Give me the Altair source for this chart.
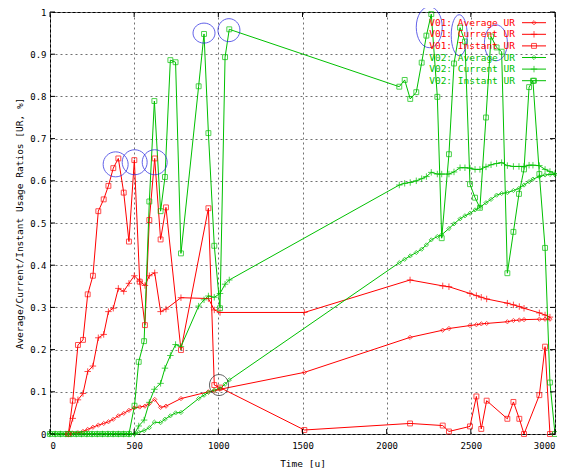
import altair as alt
import pandas as pd

# ---------------- data ----------------
v01_t = [109, 135, 166, 196, 224, 255, 287, 319, 347, 376,
         406, 438, 469, 501, 533, 564, 590, 622, 657, 689,
         778, 941, 976, 1010, 1511, 2139, 2333, 2370, 2495, 2533,
         2562, 2594, 2717, 2753, 2788, 2816, 2907, 2941, 2970]
v01_avg = [0, 0.002, 0.003, 0.006, 0.011, 0.016, 0.021, 0.025, 0.029, 0.035,
           0.043, 0.049, 0.056, 0.062, 0.064, 0.066, 0.072, 0.082, 0.063, 0.066,
           0.084, 0.1, 0.102, 0.106, 0.146, 0.229, 0.246, 0.25, 0.257, 0.259,
           0.261, 0.262, 0.266, 0.269, 0.27, 0.271, 0.272, 0.272, 0.272]
v01_cur = [0, 0.037, 0.081, 0.096, 0.148, 0.161, 0.228, 0.236, 0.29, 0.298,
           0.345, 0.338, 0.357, 0.375, 0.362, 0.352, 0.375, 0.382, 0.29, 0.296,
           0.323, 0.321, 0.294, 0.288, 0.288, 0.365, 0.351, 0.349, 0.333, 0.328,
           0.324, 0.32, 0.31, 0.306, 0.302, 0.298, 0.287, 0.282, 0.277]
v01_inst = [0, 0.079, 0.211, 0.223, 0.331, 0.375, 0.528, 0.556, 0.588, 0.630,
            0.653, 0.572, 0.456, 0.649, 0.361, 0.258, 0.507, 0.653, 0.461, 0.537,
            0.199, 0.535, 0.116, 0.11, 0.0095, 0.025, 0.02, 0.006, 0.018, 0.089,
            0.012, 0.079, 0.036, 0.076, 0.036, 0.0, 0.092, 0.207, 0.0]

v02_t = [0, 31, 62, 94, 125, 156, 187, 219, 250, 281, 312, 344, 375, 406, 437, 469,
         502, 527, 559, 590, 620, 657, 683, 715, 746, 778,
         883, 915, 941, 976, 1010, 1040, 1065,
         2075, 2107, 2140, 2176, 2208, 2236, 2265, 2301, 2327, 2370,
         2400, 2436, 2465, 2495, 2525, 2554, 2590, 2620, 2653, 2683,
         2717, 2753, 2786, 2816, 2846, 2869, 2907, 2941, 2970, 3000]
v02_avg = [0] * 16 + [
    0, 0.004, 0.008, 0.015, 0.028, 0.027, 0.035, 0.043, 0.05, 0.051,
    0.084, 0.092, 0.099, 0.104, 0.108, 0.118, 0.128,
    0.406, 0.414, 0.422, 0.43, 0.438, 0.448, 0.46, 0.468, 0.472, 0.487,
    0.498, 0.51, 0.517, 0.523, 0.531, 0.537, 0.548, 0.556, 0.566, 0.57,
    0.572, 0.577, 0.582, 0.59, 0.598, 0.604, 0.61, 0.614, 0.615, 0.615]
v02_cur = [0] * 16 + [
    0, 0.019, 0.033, 0.075, 0.106, 0.12, 0.156, 0.186, 0.212, 0.207,
    0.303, 0.318, 0.327, 0.324, 0.333, 0.355, 0.365,
    0.59, 0.594, 0.596, 0.6, 0.605, 0.61, 0.62, 0.616, 0.616, 0.616,
    0.621, 0.631, 0.631, 0.63, 0.627, 0.627, 0.633, 0.638, 0.641, 0.643,
    0.636, 0.634, 0.634, 0.634, 0.637, 0.637, 0.636, 0.627, 0.622, 0.617]
v02_inst = [0] * 16 + [
    0.067, 0.171, 0.22, 0.551, 0.789, 0.528, 0.609, 0.886, 0.881, 0.428,
    0.824, 0.948, 0.713, 0.446, 0.298, 0.893, 0.959,
    0.823, 0.839, 0.794, 0.81, 0.88, 0.944, 0.995, 0.799, 0.464, 0.663,
    0.878, 0.963, 0.93, 0.592, 0.56, 0.536, 0.75, 0.942, 0.916, 0.906,
    0.381, 0.479, 0.569, 0.627, 0.822, 0.837, 0.616, 0.441, 0.122, 0.0]

series_names = ["V01: Average UR", "V01: Current UR", "V01: Instant UR",
                "V02: Average UR", "V02: Current UR", "V02: Instant UR"]
series_kinds = ["avg", "cur", "inst", "avg", "cur", "inst"]
RED = "#ff0000"
GREEN = "#00c000"
series_colors = [RED, RED, RED, GREEN, GREEN, GREEN]

# annotation ellipses: centre (t, v) and pixel width/height
ann_t = [390, 503, 622, 915, 1063, 2253, 2431, 2649, 1004]
ann_v = [0.639, 0.644, 0.644, 0.950, 0.957, 0.964, 0.945, 0.927, 0.116]
ann_w = [25, 25, 25, 22, 22, 26, 16, 23, 19]
ann_h = [25, 25, 25, 20, 23, 41, 41, 36, 21]
ann_c = ["#2020e0"] * 8 + ["#202020"]

x_ticks = [0, 500, 1000, 1500, 2000, 2500, 3000]
y_ticks = [0, 0.1, 0.2, 0.3, 0.4, 0.5, 0.6, 0.7, 0.8, 0.9, 1]

W, H = 505, 422
FONT = "DejaVu Sans Mono"

# ---------------- build tables ----------------
rows = []
for name, kind, ts, vs in [
    (series_names[0], "avg", v01_t, v01_avg),
    (series_names[1], "cur", v01_t, v01_cur),
    (series_names[2], "inst", v01_t, v01_inst),
    (series_names[3], "avg", v02_t, v02_avg),
    (series_names[4], "cur", v02_t, v02_cur),
    (series_names[5], "inst", v02_t, v02_inst),
]:
    for t, v in zip(ts, vs):
        rows.append({"t": t, "v": v, "series": name, "kind": kind})
df = pd.DataFrame(rows)

SHAPES = {
    "avg": ("M0,-1L1,0L0,1L-1,0Z", 18),
    "cur": ("M-1,0L1,0M0,-1L0,1", 42),
    "inst": ("M-1,-1L1,-1L1,1L-1,1Z", 24),
}

color_scale = alt.Scale(domain=series_names, range=series_colors)
xs = alt.Scale(domain=[0, 3000], nice=False, zero=False)
ys = alt.Scale(domain=[0, 1], nice=False)

x_enc = alt.X("t:Q", scale=xs,
              axis=alt.Axis(values=x_ticks, format="d", title="Time [u]",
                            grid=True, gridDash=[2, 3], gridColor="#707070",
                            tickSize=0, domain=False, labelPadding=7,
                            labelFlush=2,
                            titleY=29, titleBaseline="middle"))
y_enc = alt.Y("v:Q", scale=ys,
              axis=alt.Axis(values=y_ticks, labelExpr="format(datum.value, '~g')",
                            title="Average/Current/Instant Usage Ratios [UR, %]",
                            grid=True, gridDash=[2, 3], gridColor="#707070",
                            tickSize=0, domain=False, labelPadding=4,
                            titleX=-31, titleBaseline="middle"))

lines = alt.Chart(df).mark_line(strokeWidth=1, clip=True).encode(
    x=x_enc, y=y_enc,
    color=alt.Color("series:N", scale=color_scale, legend=None),
    detail="series:N",
    order="t:Q",
)

point_layers = []
for kind, (path, size) in SHAPES.items():
    point_layers.append(
        alt.Chart(df).transform_filter(alt.datum.kind == kind)
        .mark_point(shape=path, size=size, filled=False, strokeWidth=1)
        .encode(x="t:Q", y="v:Q",
                color=alt.Color("series:N", scale=color_scale, legend=None))
    )

# legend (gnuplot style key, inside top-right)
leg_rows = []
for i, (name, kind) in enumerate(zip(series_names, series_kinds)):
    py = 10.7 + i * 11.6
    leg_rows.append({
        "series": name, "kind": kind,
        "lv": (H - py) / H,
        "lt_text": 465 * 3000 / W,
        "lt0": 472 * 3000 / W, "lt1": 496 * 3000 / W,
        "lt_mark": 484 * 3000 / W,
    })
leg = pd.DataFrame(leg_rows)

leg_text = alt.Chart(leg).mark_text(align="right", baseline="middle",
                                    font=FONT, fontSize=9.5).encode(
    x="lt_text:Q", y="lv:Q", text="series:N",
    color=alt.Color("series:N", scale=color_scale, legend=None))
leg_line = alt.Chart(leg).mark_rule(strokeWidth=1).encode(
    x="lt0:Q", x2="lt1:Q", y="lv:Q",
    color=alt.Color("series:N", scale=color_scale, legend=None))
leg_pts = []
for kind, (path, size) in SHAPES.items():
    leg_pts.append(
        alt.Chart(leg).transform_filter(alt.datum.kind == kind)
        .mark_point(shape=path, size=size, filled=False, strokeWidth=1)
        .encode(x="lt_mark:Q", y="lv:Q",
                color=alt.Color("series:N", scale=color_scale, legend=None))
    )

# annotation ellipses
ann_rows = []
for t, v, w, h, c in zip(ann_t, ann_v, ann_w, ann_h, ann_c):
    m = max(w, h)
    rx, ry = w / m, h / m
    path = f"M{-rx},0A{rx},{ry} 0 1,0 {rx},0A{rx},{ry} 0 1,0 {-rx},0Z"
    ann_rows.append({"t": t, "v": v, "path": path, "sz": m * m, "col": c})
ann = pd.DataFrame(ann_rows)
ann_layer = alt.Chart(ann).mark_point(filled=False, strokeWidth=1).encode(
    x="t:Q", y="v:Q",
    shape=alt.Shape("path:N", scale=None),
    size=alt.Size("sz:Q", scale=None),
    color=alt.Color("col:N", scale=None),
)

# inward ticks on all four sides (gnuplot mirror ticks)
xt = pd.DataFrame({"t": x_ticks})
yt = pd.DataFrame({"v": y_ticks})
tick_bottom = alt.Chart(xt).mark_rule(color="black").encode(
    x="t:Q", y=alt.value(H), y2=alt.value(H - 5))
tick_top = alt.Chart(xt).mark_rule(color="black").encode(
    x="t:Q", y=alt.value(0), y2=alt.value(5))
tick_left = alt.Chart(yt).mark_rule(color="black").encode(
    y="v:Q", x=alt.value(0), x2=alt.value(5))
tick_right = alt.Chart(yt).mark_rule(color="black").encode(
    y="v:Q", x=alt.value(W), x2=alt.value(W - 5))

chart = alt.layer(
    lines, *point_layers, tick_bottom, tick_top, tick_left, tick_right,
    ann_layer, leg_line, *leg_pts, leg_text,
).properties(
    width=W, height=H,
    autosize=alt.AutoSizeParams(type="none"),
    padding={"left": 42, "top": 4, "right": 2, "bottom": 36},
).configure_view(
    stroke="black", strokeWidth=1
).configure_axis(
    labelFont=FONT, labelFontSize=9, labelColor="black",
    titleFont=FONT, titleFontSize=9.5, titleFontWeight="normal", titleColor="black",
    gridOpacity=1,
)

chart.save("out.html", embed_options={"renderer": "svg", "actions": False})
